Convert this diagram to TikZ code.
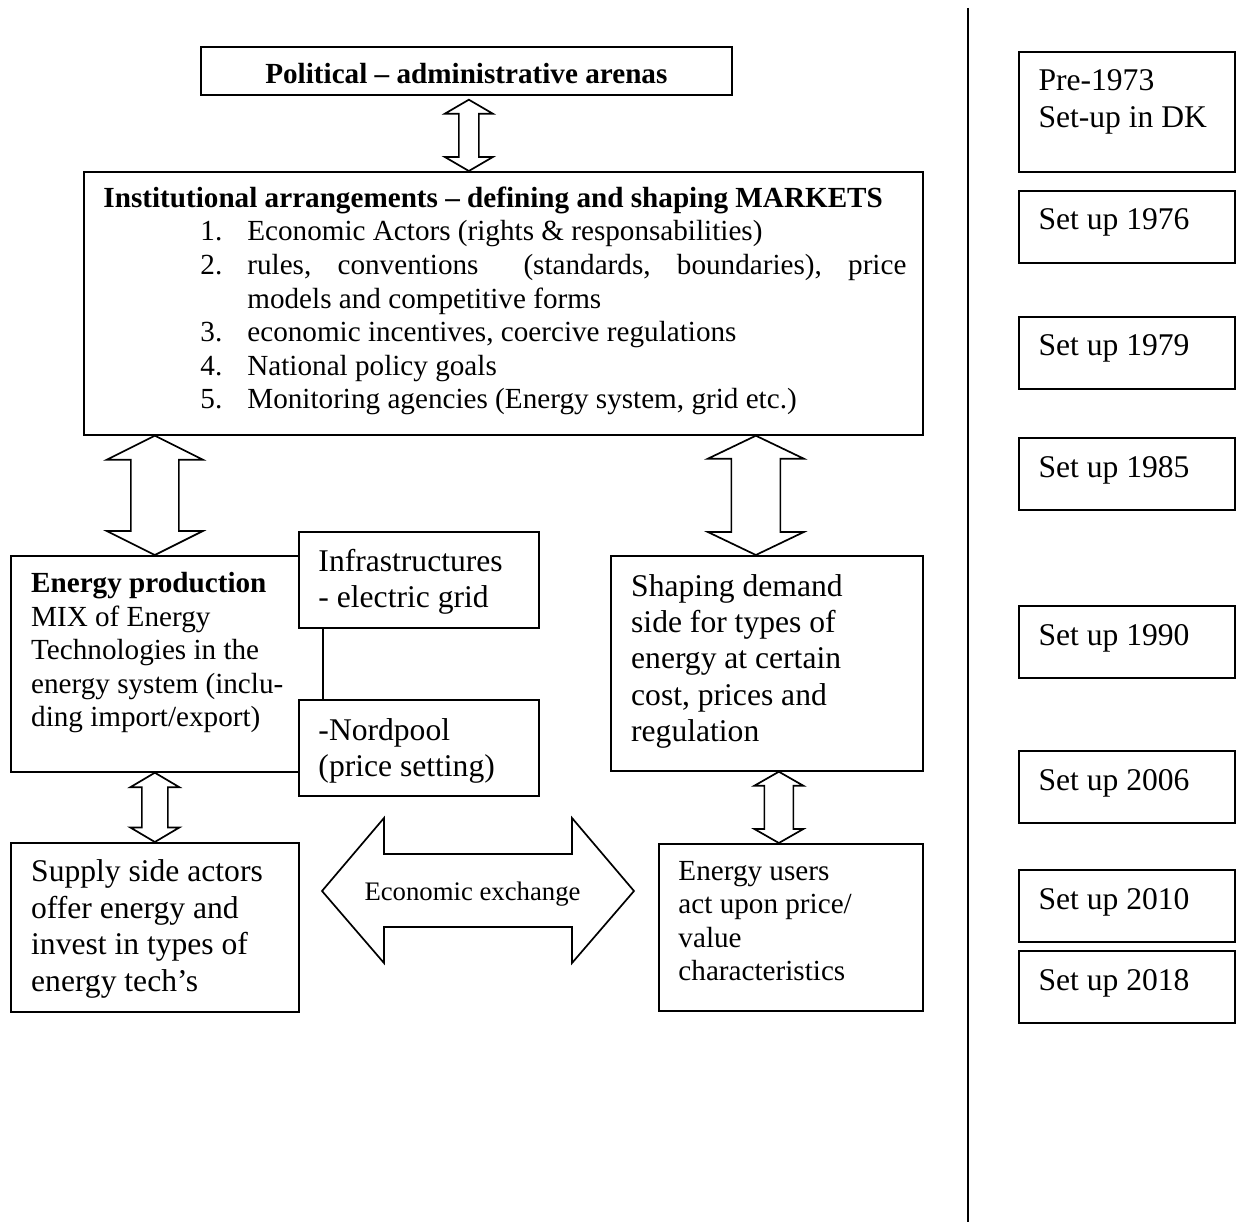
\documentclass[tikz,border=0pt]{standalone}
\usepackage{fontspec}
\setmainfont{Liberation Serif}
\usetikzlibrary{calc}
\newcommand{\pxunit}{0.4115pt}
\newcommand{\rows}[1]{\begin{tabular}[t]{@{}l@{}}#1\end{tabular}}
% vertical double block arrow: top tip, bottom tip, head half width, shaft half width, head length
\newcommand{\blockarrow}[5]{%
	\draw[arrowline] (#1) -- ($(#1)+(#3,#5)$) -- ($(#1)+(#4,#5)$) -- ($(#2)+(#4,-#5)$) -- ($(#2)+(#3,-#5)$) -- (#2)
		-- ($(#2)+(-#3,-#5)$) -- ($(#2)+(-#4,-#5)$) -- ($(#1)+(-#4,#5)$) -- ($(#1)+(-#3,#5)$) -- cycle;}
\begin{document}
\begin{tikzpicture}[x=0.4115pt, y=-0.4115pt,
	box/.style 2 args={draw, line width=.7pt, fill=white, inner sep=0, anchor=north west, minimum width=#1*\pxunit, minimum height=#2*\pxunit},
	txt/.style={inner sep=0, anchor=base west, font=\fontsize{12}{13.8}\selectfont},
	big/.style={font=\fontsize{13}{15}\selectfont},
	arrowline/.style={draw, line width=.7pt, fill=white, line join=miter}]
	\useasboundingbox (0,0) rectangle (1236,1225);
	% arenas and institutions
	\node[box={531}{48}, text height=10.6pt, text depth=0pt, font=\bfseries\fontsize{12}{13.8}\selectfont] (pol) at (200,46) {Political – administrative arenas};
	\node[box={839}{263}] (inst) at (83,171) {};
	\node[txt, font=\bfseries\fontsize{12}{13.8}\selectfont] (insttitle) at (103,207.5) {Institutional arrangements – defining and shaping MARKETS};
	\node[txt] (instlist) at (200,241) {\begin{tabular}[t]{@{}l@{}l@{}}
		\makebox[19.3pt][l]{1.} & Economic Actors (rights \& responsabilities)\\
		2. & \makebox[271.2pt][s]{rules, conventions \ (standards, boundaries), price}\\
		   & models and competitive forms\\
		3. & economic incentives, coercive regulations\\
		4. & National policy goals\\
		5. & Monitoring agencies (Energy system, grid etc.)
	\end{tabular}};
	% production side
	\node[box={312}{216}] (prod) at (10,555) {};
	\node[box={240}{96}] (infra) at (298,531) {};
	\node[box={240}{96}] (nord) at (298,699) {};
	\node[txt] (prodtxt) at (30.7,592.7) {\rows{\textbf{Energy production}\\ MIX of Energy\\ Technologies in the\\ energy system (inclu-\\ ding import/export)}};
	\node[txt, big] (infratxt) at (318,571) {\rows{Infrastructures\\ - electric grid}};
	\node[txt, big] (nordtxt) at (318,740) {\rows{-Nordpool\\ (price setting)}};
	\node[box={288}{169}] (supply) at (10,842) {};
	\node[txt, big] (supplytxt) at (30.7,881.7) {\rows{Supply side actors\\ offer energy and\\ invest in types of\\ energy tech’s}};
	% demand side
	\node[box={312}{215}] (shape) at (610,555) {};
	\node[txt, big] (shapetxt) at (630.7,596) {\rows{Shaping demand\\ side for types of\\ energy at certain\\ cost, prices and\\ regulation}};
	\node[box={264}{167}] (users) at (658,843) {};
	\node[txt] (userstxt) at (678,880) {\rows{Energy users\\ act upon price/\\ value\\ characteristics}};
	% block arrows
	\coordinate (p1) at ($(pol.south)+(2.5,4)$);
	\coordinate (p2) at (p1 |- inst.north);
	\blockarrow{p1}{p2}{24}{10}{14}
	\coordinate (l1) at (supply.north |- inst.south);
	\coordinate (l2) at (supply.north |- prod.north);
	\blockarrow{l1}{l2}{48}{24}{24}
	\coordinate (l3) at (supply.north |- prod.south);
	\blockarrow{l3}{supply.north}{24.5}{13}{14.5}
	\coordinate (r1) at ($(shape.north |- inst.south)+(-11,0)$);
	\coordinate (r2) at ($(shape.north)+(-11,0)$);
	\blockarrow{r1}{r2}{48}{24.5}{23}
	\coordinate (r3) at ($(shape.south)+(12,0)$);
	\coordinate (r4) at (r3 |- users.north);
	\blockarrow{r3}{r4}{24.5}{14.5}{14}
	%exchange
	\draw[arrowline] (322,891) -- (384,818) -- (384,854) -- (572,854) -- (572,818) -- (634,891)
		-- (572,963) -- (572,927) -- (384,927) -- (384,963) -- cycle;
	\node[inner sep=0, anchor=base, font=\fontsize{11}{12.6}\selectfont] (exch) at (472.5,900.7) {Economic exchange};
	% time line
	\draw[line width=1.1pt] (968,8) -- (968,1222);
	\node[box={216}{120}] (pre) at (1018,51) {};
	\node[txt, big] (pretxt) at (1038,91) {\rows{Pre-1973\\ Set-up in DK}};
	\foreach \ry/\yr in {190/1976,316/1979,437/1985,605/1990,750/2006,869/2010,950/2018}{
		\node[box={216}{72}] (set\yr) at (1018,\ry) {};
		\node[txt, big] (yr\yr) at (1038,\ry+40) {Set up \yr};
	}
\end{tikzpicture}
\end{document}
